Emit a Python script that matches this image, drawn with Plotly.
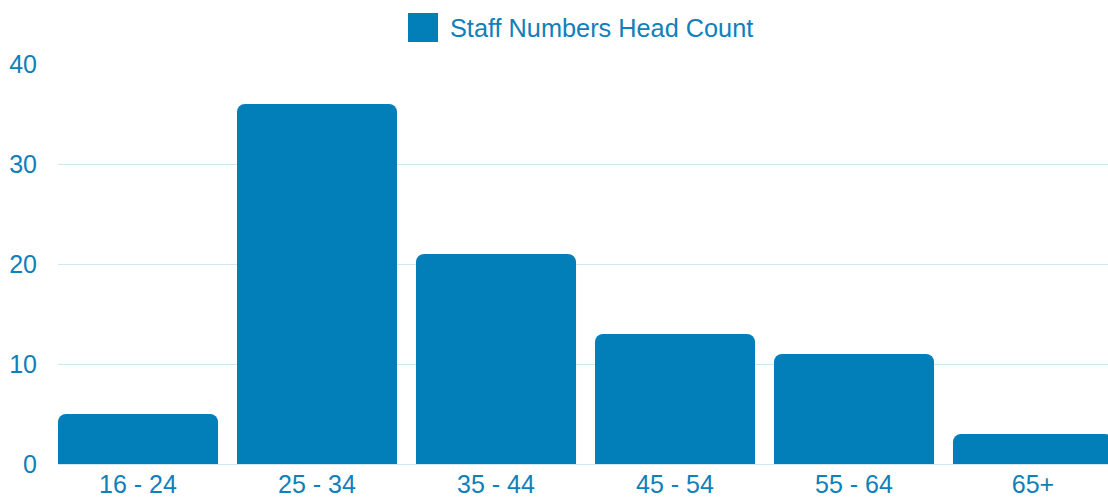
import plotly.graph_objects as go

# Staff head count by age band
age_bands = ["16 - 24", "25 - 34", "35 - 44", "45 - 54", "55 - 64", "65+"]
head_count = [5, 36, 21, 13, 11, 3]
series_name = "Staff Numbers Head Count"

BAR_COLOR = "#027fb8"
TEXT_COLOR = "#0e80ba"
GRID_COLOR = "#cfe7f2"
FONT = "Liberation Sans, Arial, sans-serif"

fig = go.Figure(
    go.Bar(
        x=list(range(len(age_bands))),
        y=head_count,
        name=series_name,
        marker=dict(color=BAR_COLOR, line=dict(width=0)),
        showlegend=False,
        hoverinfo="x+y",
    )
)

fig.update_layout(
    width=1108,
    height=497,
    margin=dict(l=58, r=0, t=64, b=33),
    paper_bgcolor="white",
    plot_bgcolor="white",
    bargap=0.106,
    barcornerradius=8,
    font=dict(family=FONT, size=25, color=TEXT_COLOR),
    xaxis=dict(
        tickmode="array",
        tickvals=list(range(len(age_bands))),
        ticktext=age_bands,
        range=[-0.447, 5.419],
        showgrid=False,
        zeroline=False,
        showline=False,
        ticks="",
        ticklabelstandoff=3,
        automargin=False,
    ),
    yaxis=dict(
        range=[0, 40],
        tickvals=[0, 10, 20, 30, 40],
        showgrid=True,
        gridcolor=GRID_COLOR,
        gridwidth=1,
        zeroline=True,
        zerolinecolor=GRID_COLOR,
        zerolinewidth=1,
        showline=False,
        ticks="",
        ticklabelstandoff=20,
        automargin=False,
    ),
)

# Legend drawn as a square swatch with the series label beside it
fig.add_shape(
    type="rect",
    xref="paper", yref="paper",
    x0=(408 - 58) / 1050, x1=(438 - 58) / 1050,
    y0=(464 - 42) / 400, y1=(464 - 13) / 400,
    fillcolor=BAR_COLOR, line=dict(width=0),
)
fig.add_annotation(
    xref="paper", yref="paper",
    x=(448 - 58) / 1050, y=(464 - 28) / 400,
    xanchor="left", yanchor="middle",
    text=series_name, showarrow=False,
    font=dict(family=FONT, size=25.3, color=TEXT_COLOR),
)

fig.write_html("out.html")
